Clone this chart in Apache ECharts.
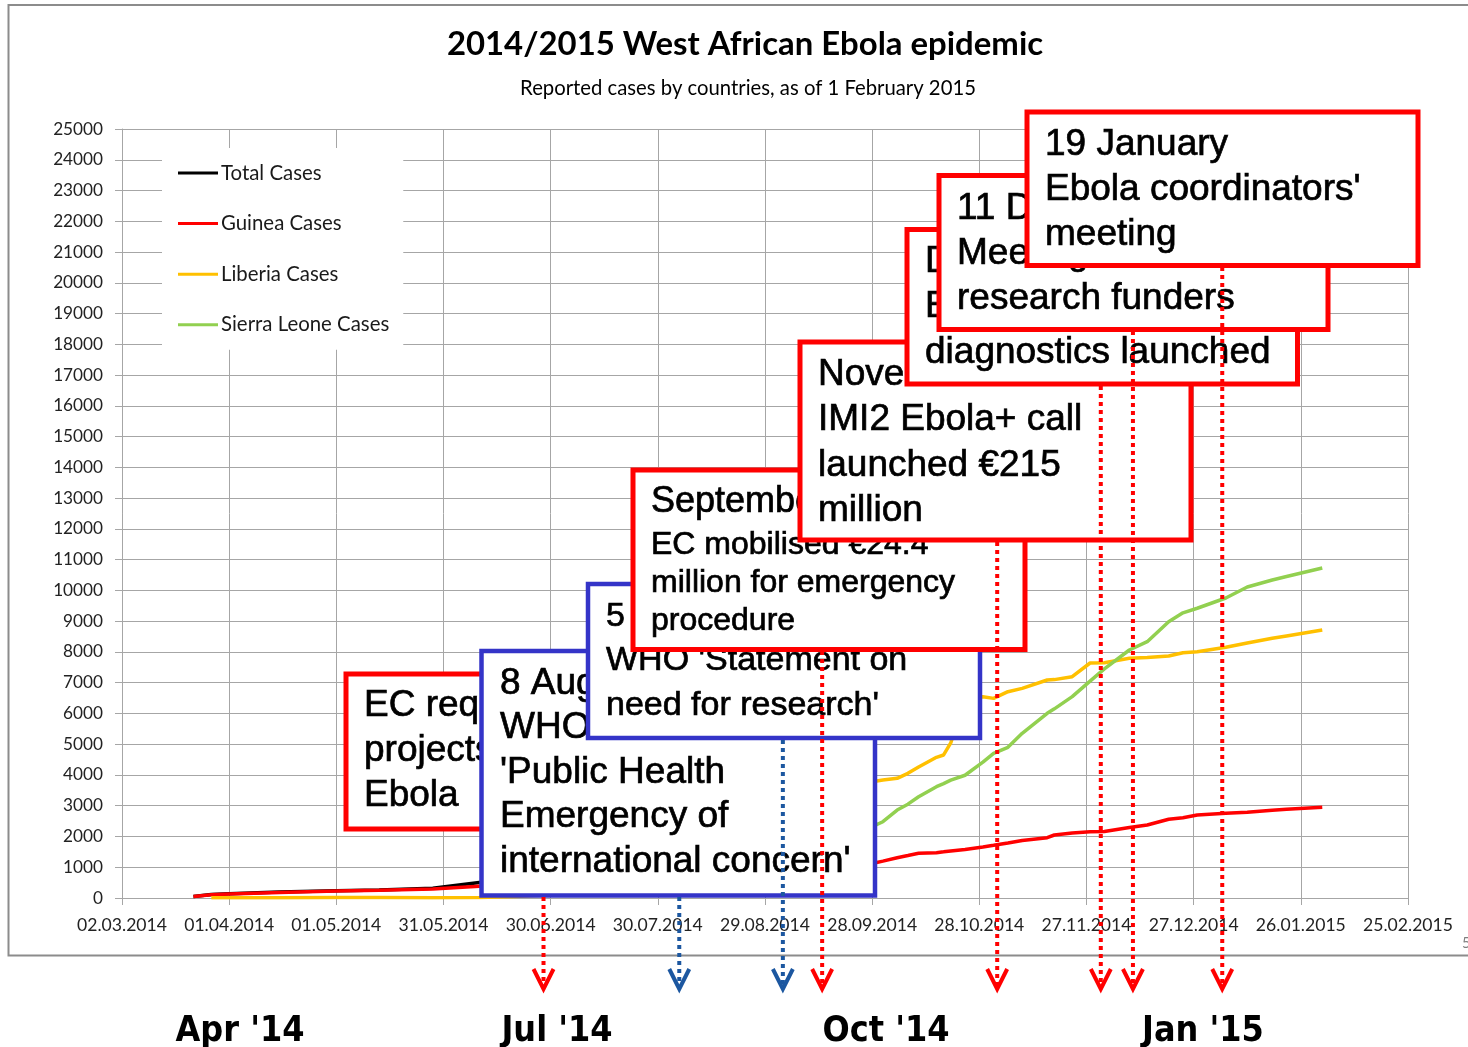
<!DOCTYPE html>
<html>
<head>
<meta charset="utf-8">
<script src="https://cdn.jsdelivr.net/npm/echarts@6/dist/echarts.min.js"></script>
<style>
html,body{margin:0;padding:0;background:#fff;}
#c{width:1468px;height:1047px;}
</style>
</head>
<body>
<div id="c"></div>
<script>
// ---------------- DATA ----------------
const chartTitle = '2014/2015 West African Ebola epidemic';
const chartSubtitle = 'Reported cases by countries, as of 1 February 2015';
const seriesNames = ['Total Cases', 'Guinea Cases', 'Liberia Cases', 'Sierra Leone Cases'];
const axisStartDate = '2014-03-02';
const axisEndDate = '2015-02-25';
const xStepDays = 30;
const yMax = 25000;
const yStep = 1000;

const reportDates = [
  '2014-03-22','2014-03-27','2014-04-01','2014-04-15','2014-05-01','2014-05-13','2014-05-28','2014-06-10',
  '2014-06-20','2014-06-30','2014-07-15','2014-07-30','2014-08-13','2014-08-28','2014-09-12','2014-09-24',
  '2014-09-28','2014-10-01','2014-10-05','2014-10-08','2014-10-11','2014-10-16','2014-10-18','2014-10-20',
  '2014-10-24','2014-10-29','2014-11-01','2014-11-05','2014-11-09','2014-11-16','2014-11-18','2014-11-23',
  '2014-11-28','2014-12-02','2014-12-09','2014-12-14','2014-12-20','2014-12-24','2014-12-28','2015-01-05',
  '2015-01-11','2015-01-18','2015-01-22','2015-02-01'
];
const totalCases = [
  49, 111, 135, 192, 239, 263, 319, 503,
  607, 759, 964, 1425, 2127, 3069, 4650, 6263,
  7238, 7536, 8081, 8503, 9025, 9686, 9890, 10420,
  12090, 12650, 12950, 13420, 14060, 15040, 15320, 15885,
  16860, 17290, 18166, 18548, 19430, 19880, 20150, 20680,
  21210, 21660, 21880, 22410
];
const guineaCases = [
  49, 103, 127, 180, 226, 250, 291, 380,
  398, 413, 406, 460, 519, 648, 862, 1022,
  1120, 1200, 1310, 1380, 1452, 1473, 1500, 1530,
  1580, 1660, 1715, 1790, 1870, 1960, 2048, 2115,
  2150, 2165, 2290, 2373, 2558, 2612, 2698, 2753,
  2785, 2850, 2883, 2948
];
const liberiaCases = [
  null, 8, 8, 12, 13, 13, 12, 13,
  51, 107, 172, 391, 786, 1378, 2407, 3280,
  3780, 3836, 3891, 4053, 4260, 4574, 4650, 5040,
  6480, 6545, 6490, 6707, 6815, 7087, 7100, 7195,
  7640, 7651, 7792, 7820, 7867, 7975, 8008, 8150,
  8290, 8442, 8520, 8713
];
const sierraLeoneCases = [
  null, null, null, null, null, null, null, null,
  158, 239, 386, 574, 810, 1026, 1361, 1940,
  2318, 2480, 2860, 3050, 3293, 3619, 3720, 3830,
  3990, 4420, 4704, 4900, 5354, 6003, 6150, 6545,
  7050, 7450, 8062, 8333, 8983, 9270, 9420, 9753,
  10110, 10338, 10450, 10728
];

// Event call-outs (text) and the dates their arrows point at
const eventKinds = ['EC', 'WHO', 'WHO', 'EC', 'EC', 'EC', 'EC', 'EC'];
const eventArrowDates = ['2014-06-28','2014-08-05','2014-09-03','2014-09-14','2014-11-02','2014-12-01','2014-12-10','2015-01-04'];
const eventTexts = [
  ['EC requests', 'projects on', 'Ebola'],
  ['8 August', 'WHO declares', "'Public Health", 'Emergency of', "international concern'"],
  ['5 September', "WHO 'Statement on", "need for research'"],
  ['September', 'EC mobilised €24.4', 'million for emergency', 'procedure'],
  ['November', 'IMI2 Ebola+ call', 'launched €215', 'million'],
  ['December', 'Ebola+ call on', 'diagnostics launched'],
  ['11 December', 'Meeting of Ebola', 'research funders'],
  ['19 January', "Ebola coordinators'", 'meeting']
];
const quarterLabels = ["Apr '14", "Jul '14", "Oct '14", "Jan '15"];
const pageNumber = '5';

// ---------------- LAYOUT / STYLE ----------------
const RED = '#ff0000', BLUE_BOX = '#3434c8', BLUE_ARROW = '#1c57a0';
const seriesColors = ['#000000', '#ff0000', '#ffc000', '#92d050'];
const boxLayout = [
  {x1:346,   y1:674,   x2:738,    y2:829,   tx:364,   ly:[706,751,796],               fs:[37,37,37]},
  {x1:481.5, y1:651,   x2:875,    y2:895.5, tx:500,   ly:[683.5,728,772.5,817,861.5], fs:[37,37,37,37,37]},
  {x1:588,   y1:584,   x2:980,    y2:738,   tx:606,   ly:[616.5,661,705.5],           fs:[34,34,34]},
  {x1:633,   y1:470,   x2:1025,   y2:649.5, tx:651,   ly:[502,545,583,621],           fs:[36,32,32,32]},
  {x1:800,   y1:342,   x2:1191,   y2:540,   tx:818,   ly:[374.5,420,465.5,511],       fs:[37,37,37,37]},
  {x1:907,   y1:229.5, x2:1297.5, y2:384,   tx:925,   ly:[261.5,307,352.5],           fs:[37,37,37]},
  {x1:939,   y1:175.5, x2:1328,   y2:329.5, tx:957,   ly:[208.5,253.5,298.5],         fs:[37,37,37]},
  {x1:1027,  y1:112,   x2:1418,   y2:265.5, tx:1045,  ly:[145,190,235],               fs:[37,37,37]}
];
const arrowTopY = [897, 897, 740, 651, 542, 386, 331, 267];
const quarterX = [240, 557, 886, 1203];

// ---------------- HELPERS ----------------
const DAY = 86400000;
function utc(s){ const p = s.split('-').map(Number); return Date.UTC(p[0], p[1]-1, p[2]); }
const BASE = utc(axisStartDate);
function dayOffset(s){ return Math.round((utc(s) - BASE) / DAY); }
function fmtDate(v){
  const d = new Date(BASE + Math.round(v) * DAY);
  const dd = String(d.getUTCDate()).padStart(2,'0');
  const mm = String(d.getUTCMonth()+1).padStart(2,'0');
  return dd + '.' + mm + '.' + d.getUTCFullYear();
}
function points(vals){
  const out = [];
  reportDates.forEach((d,i)=>{ if (vals[i] != null) out.push([dayOffset(d), vals[i]]); });
  return out;
}
const mctx = document.createElement('canvas').getContext('2d');
function fit(text, family, weight, target){
  mctx.font = weight + ' 100px ' + family;
  return Math.round(100 * target / mctx.measureText(text).width * 10) / 10;
}
const CAL = 'Lato, "Open Sans", sans-serif';
const titleFs = fit(chartTitle, CAL, 'bold', 597);
const subFs = fit(chartSubtitle, CAL, 'normal', 457);
const yFs = fit('25000', CAL, 'normal', 50);
const xFs = fit('02.03.2014', CAL, 'normal', 90);
const legFs = fit('Sierra Leone Cases', CAL, 'normal', 168);
const QF = '"DejaVu Sans Condensed", "DejaVu Sans", sans-serif';
const qFs = fit("Apr '14", QF, 'bold', 129);

// ---------------- CHART ----------------
const chart = echarts.init(document.getElementById('c'), null, {renderer:'canvas'});
const allSeries = [totalCases, guineaCases, liberiaCases, sierraLeoneCases];
const gridColor = '#a6a6a6';

chart.setOption({
  animation: false,
  backgroundColor: '#ffffff',
  title: [
    {text: chartTitle, left: 745, top: 46 - titleFs*0.55, textAlign: 'center', padding: 0,
     textStyle: {fontFamily: CAL, fontWeight: 'bold', fontSize: titleFs, color: '#000'}},
    {text: chartSubtitle, left: 748, top: 90 - subFs*0.55, textAlign: 'center', padding: 0,
     textStyle: {fontFamily: CAL, fontWeight: 'normal', fontSize: subFs, color: '#000'}}
  ],
  legend: {
    data: seriesNames,
    orient: 'vertical',
    left: 162, top: 148,
    padding: [Math.round(25 - legFs/2), 14, Math.round(25 - legFs/2), 16],
    itemGap: 51 - legFs,
    itemWidth: 40, itemHeight: 3,
    icon: 'rect',
    backgroundColor: '#ffffff',
    textStyle: {fontFamily: CAL, fontSize: legFs, color: '#1a1a1a', padding: [0,0,0,-2]}
  },
  grid: {left: 122, right: 60, top: 129, bottom: 149, containLabel: false, outerBoundsMode: 'none'},
  xAxis: {
    type: 'value',
    min: 0, max: dayOffset(axisEndDate), interval: xStepDays,
    axisLine: {show: true, lineStyle: {color: gridColor, width: 1}},
    axisTick: {show: true, inside: false, length: 7, lineStyle: {color: gridColor}},
    splitLine: {show: true, lineStyle: {color: gridColor, width: 1}},
    axisLabel: {formatter: fmtDate, fontFamily: CAL, fontSize: xFs, color: '#222',
                margin: Math.round(925 - xFs/2 - 898), showMinLabel: true, showMaxLabel: true, hideOverlap: false}
  },
  yAxis: {
    type: 'value',
    min: 0, max: yMax, interval: yStep,
    axisLine: {show: true, lineStyle: {color: gridColor, width: 1}},
    axisTick: {show: true, inside: false, length: 7, lineStyle: {color: gridColor}},
    splitLine: {show: true, lineStyle: {color: gridColor, width: 1}},
    axisLabel: {formatter: v => String(v), fontFamily: CAL, fontSize: yFs, color: '#222', margin: 19,
                showMinLabel: true, showMaxLabel: true}
  },
  series: seriesNames.map((n, i) => ({
    name: n, type: 'line', data: points(allSeries[i]),
    symbol: 'none', showSymbol: false, smooth: false,
    lineStyle: {width: 3.5, color: seriesColors[i]},
    itemStyle: {color: seriesColors[i]},
    z: 2 + i
  }))
});

// ---------------- ANNOTATIONS ----------------
const g = [];
g.push({type: 'rect', z: 1, silent: true,
  shape: {x: 8.5, y: 5, width: 1475, height: 950.5},
  style: {fill: 'none', stroke: '#8c8c8c', lineWidth: 2}});

eventTexts.forEach((lines, i) => {
  const b = boxLayout[i];
  const col = eventKinds[i] === 'WHO' ? BLUE_BOX : RED;
  g.push({type: 'rect', z: 100 + i*2,
    shape: {x: b.x1, y: b.y1, width: b.x2 - b.x1, height: b.y2 - b.y1},
    style: {fill: '#ffffff', stroke: col, lineWidth: eventKinds[i] === 'WHO' ? 4.5 : 5}});
  lines.forEach((t, j) => {
    g.push({type: 'text', z: 101 + i*2,
      style: {text: t, x: b.tx, y: b.ly[j], fill: '#000', stroke: '#000', lineWidth: 0.7,
        fontFamily: '"Liberation Sans", Arial, sans-serif', fontSize: b.fs[j],
        textAlign: 'left', textVerticalAlign: 'middle', verticalAlign: 'middle'}});
  });
});

eventArrowDates.forEach((d, i) => {
  const ax = chart.convertToPixel({xAxisIndex: 0}, dayOffset(d));
  const col = eventKinds[i] === 'WHO' ? BLUE_ARROW : RED;
  g.push({type: 'line', z: 200,
    shape: {x1: ax, y1: arrowTopY[i], x2: ax, y2: 986},
    style: {stroke: col, lineWidth: 4, lineDash: [4, 4]}});
  g.push({type: 'polyline', z: 201,
    shape: {points: [[ax - 10, 969], [ax, 989], [ax + 10, 969]]},
    style: {stroke: col, lineWidth: 4, fill: null, lineJoin: 'miter'}});
});

quarterLabels.forEach((t, i) => {
  g.push({type: 'text', z: 50,
    style: {text: t, x: quarterX[i], y: 1032, fill: '#000',
      fontFamily: QF, fontWeight: 'bold', fontSize: qFs,
      textAlign: 'center', textVerticalAlign: 'middle', verticalAlign: 'middle'}});
});

g.push({type: 'text', z: 50,
  style: {text: pageNumber, x: 1462, y: 943, fill: '#7f7f7f',
    fontFamily: CAL, fontSize: 15, textAlign: 'left', textVerticalAlign: 'middle', verticalAlign: 'middle'}});

chart.setOption({graphic: g});
</script>
</body>
</html>
